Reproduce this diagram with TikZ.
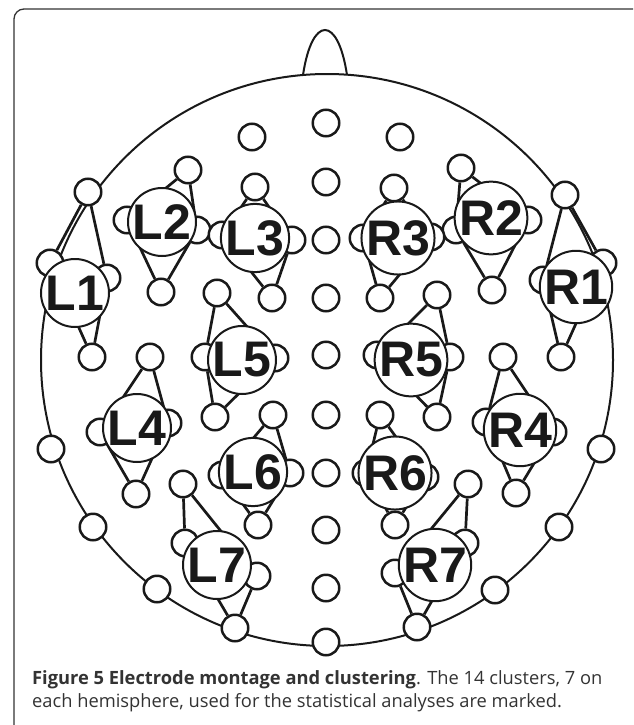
\documentclass[tikz,border=0pt]{standalone}
\usepackage{fontspec}
\setmainfont{Open Sans}
\newfontfamily\labelfont{Liberation Sans}
\begin{document}
\begin{tikzpicture}[
    x=1pt, y=-1pt,
    frame/.style={line width=1.3pt, black!80},
    head/.style={line width=2pt, black!90},
    electrode/.style={circle, draw=black!90, fill=white, line width=2.5pt, minimum size=26.5pt, inner sep=0pt},
    cluster/.style={circle, draw=black!90, fill=white, line width=2pt, minimum size=68pt, inner sep=0pt,
        font=\labelfont\bfseries\fontsize{50}{50}\selectfont, text=black!90},
    link/.style={line width=2.7pt, black!90},
    caption/.style={anchor=north west, align=left, inner sep=0pt, text=black!80, font=\fontsize{18.3}{23}\selectfont}
]
\useasboundingbox (0,0) rectangle (633,725);

% Frame
\draw[frame, rounded corners=10pt] (14,725) |- (633,9);

% Head and nose
\draw[head] (327,360) circle (286);
\draw[head] (303,75) .. controls (312,15) and (338,15) .. (347,75);

% Midline electrodes
\foreach \y [count=\i] in {123,182,240,298,355,415,473,530,588,642}
    \node[electrode] (m\i) at (326,\y) {};

% Other single electrodes
\node[electrode] (lf) at (252,137) {};
\node[electrode] (rf) at (400,137) {};
\node[electrode] (lt1) at (51,449) {};
\node[electrode] (lt2) at (93,527) {};
\node[electrode] (lt3) at (157,589) {};
\node[electrode] (rt1) at (601,449) {};
\node[electrode] (rt2) at (559,527) {};
\node[electrode] (rt3) at (495,590) {};

% Clusters: upper, left, right, lower electrode and label
\foreach \n/\ux/\uy/\lx/\ly/\rx/\ry/\dx/\dy/\cx/\cy in {
    L1/88/192/50/263/107/278/92/357/75/293,
    L2/188/170/127/220/197/230/161/292/162/222,
    L3/255/187/222/235/292/240/272/298/255/238,
    L4/150/357/100/432/168/423/136/494/137/428,
    L5/217/293/205/357/275/358/215/417/242/360,
    L6/273/415/222/475/290/473/258/525/253/472,
    L7/183/484/185/543/257/576/235/628/217/565,
    R1/565/195/543/280/603/263/561/357/576/287,
    R2/461/168/456/230/528/220/492/290/491/218,
    R3/394/188/363/238/431/237/380/298/398/238,
    R4/503/357/486/422/553/432/516/493/520/430,
    R5/437/295/377/355/450/357/437/417/411/360,
    R6/380/415/366/473/425/477/395/525/395/473,
    R7/468/484/395/573/465/543/417/627/435/565}{
    \node[electrode] (\n-u) at (\ux,\uy) {};
    \node[electrode] (\n-l) at (\lx,\ly) {};
    \node[electrode] (\n-r) at (\rx,\ry) {};
    \node[electrode] (\n-d) at (\dx,\dy) {};
    \draw[link] (\n-u) -- (\n-l) -- (\n-d) -- (\n-r) -- (\n-u);
    \node[cluster] (\n) at (\cx,\cy) {\n};
}

% Caption
\node[caption] (cap) at (32,670) {\textbf{Figure 5 Electrode montage and clustering}. The 14 clusters, 7 on\\each hemisphere, used for the statistical analyses are marked.};

\end{tikzpicture}
\end{document}
